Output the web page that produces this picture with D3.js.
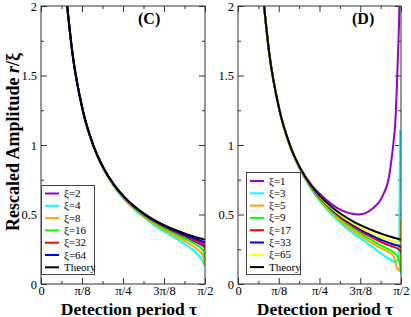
<!DOCTYPE html>
<head>
<meta charset="utf-8">
<style>
  body { margin: 0; background: #fff; }
  svg text { font-family: "Liberation Serif", "DejaVu Serif", serif; }
</style>
</head>
<body>
<div id="chart"></div>
<script src="https://cdnjs.cloudflare.com/ajax/libs/d3/7.8.5/d3.min.js"></script>
<script>
var PI = Math.PI;

// tick positions / labels
var xTicks = [0, PI / 8, PI / 4, 3 * PI / 8, PI / 2];
var xTickLabels = ["0", "π/8", "π/4", "3π/8", "π/2"];
var xMinor = [PI / 16, 3 * PI / 16, 5 * PI / 16, 7 * PI / 16];
var yTicks = [0, 0.5, 1, 1.5, 2];
var yTickLabels = ["0", "0.5", "1", "1.5", "2"];
var yMinor = [0.25, 0.75, 1.25, 1.75];

// panel C
var tauC = [0.24, 0.3, 0.4, 0.5, 0.6, 0.7, 0.8, 0.9, 1.0, 1.1, 1.2, 1.3, 1.4, 1.45, 1.5, 1.53, 1.55, 1.56, 1.5708];
var seriesNamesC = ["ξ=2", "ξ=4", "ξ=8", "ξ=16", "ξ=32", "ξ=64", "Theory"];
var c_xi2  = [2.08, 1.667, 1.249, 0.998, 0.829, 0.708, 0.617, 0.545, 0.486, 0.438, 0.397, 0.362, 0.329, 0.313, 0.295, 0.284, 0.275, 0.269, 0.258];
var c_xi4  = [2.08, 1.667, 1.247, 0.995, 0.823, 0.699, 0.605, 0.531, 0.470, 0.415, 0.367, 0.325, 0.277, 0.250, 0.213, 0.187, 0.163, 0.146, 0.128];
var c_xi8  = [2.08, 1.667, 1.248, 0.996, 0.825, 0.702, 0.609, 0.536, 0.476, 0.425, 0.380, 0.340, 0.299, 0.277, 0.248, 0.227, 0.203, 0.181, 0.138];
var c_xi16 = [2.08, 1.667, 1.249, 0.997, 0.828, 0.707, 0.615, 0.544, 0.485, 0.436, 0.393, 0.355, 0.319, 0.300, 0.278, 0.262, 0.243, 0.226, 0.188];
var c_xi32 = [2.08, 1.667, 1.250, 0.999, 0.831, 0.711, 0.620, 0.550, 0.492, 0.445, 0.405, 0.370, 0.339, 0.324, 0.308, 0.298, 0.288, 0.281, 0.265];
var c_xi64 = [2.08, 1.667, 1.250, 1.000, 0.833, 0.713, 0.623, 0.553, 0.496, 0.450, 0.411, 0.377, 0.347, 0.334, 0.320, 0.312, 0.305, 0.302, 0.290];
var c_theory = [2.08, 1.667, 1.250, 1.000, 0.833, 0.714, 0.625, 0.556, 0.500, 0.455, 0.417, 0.385, 0.357, 0.345, 0.333, 0.327, 0.323, 0.321, 0.318];

// panel D
var tauD = [0.24, 0.3, 0.4, 0.5, 0.6, 0.7, 0.8, 0.9, 1.0, 1.1, 1.16, 1.2, 1.3, 1.37, 1.4, 1.45, 1.48, 1.5, 1.515, 1.53, 1.545, 1.555, 1.561, 1.566, 1.5708];
var seriesNamesD = ["ξ=1", "ξ=3", "ξ=5", "ξ=9", "ξ=17", "ξ=33", "ξ=65", "Theory"];
var d_xi1  = [2.083, 1.667, 1.250, 1.000, 0.835, 0.720, 0.640, 0.575, 0.530, 0.505, 0.500, 0.503, 0.545, 0.600, 0.645, 0.750, 0.900, 1.030, 1.150, 1.400, 1.720, 2.000, 2.400, 2.800, 3.200];
var d_xi3  = [2.083, 1.667, 1.248, 0.995, 0.821, 0.689, 0.585, 0.501, 0.430, 0.370, 0.338, 0.317, 0.265, 0.223, 0.207, 0.185, 0.170, 0.160, 0.156, 0.165, 0.200, 0.350, 1.110, null, null];
var d_xi5  = [2.083, 1.667, 1.248, 0.996, 0.823, 0.696, 0.595, 0.514, 0.445, 0.387, 0.356, 0.337, 0.290, 0.260, 0.249, 0.230, 0.215, 0.200, 0.165, 0.120, 0.100, 0.095, 0.100, 0.200, 0.460];
var d_xi9  = [2.083, 1.667, 1.249, 0.997, 0.825, 0.700, 0.603, 0.526, 0.460, 0.405, 0.375, 0.355, 0.310, 0.280, 0.269, 0.250, 0.238, 0.228, 0.218, 0.205, 0.185, 0.160, 0.140, 0.115, 0.080];
var d_xi17 = [2.083, 1.667, 1.250, 0.998, 0.828, 0.705, 0.610, 0.535, 0.472, 0.420, 0.391, 0.372, 0.332, 0.305, 0.295, 0.280, 0.273, 0.268, 0.263, 0.258, 0.252, 0.247, 0.243, 0.238, 0.225];
var d_xi33 = [2.083, 1.667, 1.250, 0.999, 0.830, 0.708, 0.615, 0.541, 0.480, 0.430, 0.402, 0.384, 0.345, 0.320, 0.311, 0.297, 0.290, 0.285, 0.282, 0.279, 0.276, 0.273, 0.270, 0.267, 0.260];
var d_xi65 = [2.083, 1.667, 1.250, 1.000, 0.831, 0.711, 0.619, 0.547, 0.488, 0.440, 0.414, 0.397, 0.362, 0.340, 0.331, 0.318, 0.311, 0.307, 0.304, 0.301, 0.298, 0.296, 0.295, 0.293, 0.300];
var d_theory = [2.083, 1.667, 1.250, 1.000, 0.833, 0.714, 0.625, 0.556, 0.500, 0.455, 0.431, 0.417, 0.385, 0.365, 0.357, 0.345, 0.338, 0.333, 0.330, 0.327, 0.324, 0.322, 0.320, 0.319, 0.318];

var colorsC = ["#9400d3", "#00ffff", "#ffa500", "#00ff00", "#ff0000", "#0000ff", "#000000"];
var colorsD = ["#9400d3", "#00ffff", "#ffa500", "#00ff00", "#ff0000", "#0000ff", "#ffff00", "#000000"];

var svg = d3.select("#chart").append("svg")
  .attr("width", 411)
  .attr("height", 317);

var plotTop = 6, plotBottom = 284;

drawPanel({
  id: "C", x0: 41, x1: 205, tau: tauC, names: seriesNamesC, colors: colorsC,
  values: [c_xi2, c_xi4, c_xi8, c_xi16, c_xi32, c_xi64, c_theory],
  legend: {x: 41, y: 185, w: 53, h: 89, lineX: 45, textX: 64, row0: 193.5},
  label: {x: 138, text: "(C)"}, title: 129
});
drawPanel({
  id: "D", x0: 238, x1: 401, tau: tauD, names: seriesNamesD, colors: colorsD,
  values: [d_xi1, d_xi3, d_xi5, d_xi9, d_xi17, d_xi33, d_xi65, d_theory],
  legend: {x: 246, y: 172, w: 54, h: 102, lineX: 250, textX: 269, row0: 181},
  label: {x: 352, text: "(D)"}, title: 325
});

// y axis title
var yt = svg.append("text")
  .attr("transform", "translate(19,142) rotate(-90)")
  .attr("text-anchor", "middle")
  .attr("font-size", 18)
  .attr("font-weight", "bold");
yt.append("tspan").text("Rescaled Amplitude ");
yt.append("tspan").attr("font-style", "italic").text("r");
yt.append("tspan").text("/ξ");

function drawPanel(p) {
  var x = d3.scaleLinear().domain([0, PI / 2]).range([p.x0, p.x1]);
  var y = d3.scaleLinear().domain([0, 2]).range([plotBottom, plotTop]);
  var g = svg.append("g");

  g.append("clipPath").attr("id", "clip" + p.id)
    .append("rect")
    .attr("x", p.x0).attr("y", plotTop)
    .attr("width", p.x1 - p.x0).attr("height", plotBottom - plotTop);

  // ticks, pointing inward on all four sides
  function ticks(axis, tr, vals, size, labels) {
    var a = g.append("g").attr("transform", tr)
      .call(axis.tickValues(vals).tickSize(size).tickPadding(labels ? 2 : 0)
        .tickFormat(function(d, i) { return labels ? labels[i] : ""; }));
    a.select(".domain").remove();
    a.selectAll("line").attr("stroke", "#333");
    a.selectAll("text").attr("font-size", 12.5).attr("fill", "#000")
      .attr("font-family", "Liberation Serif");
    return a;
  }
  ticks(d3.axisBottom(x), "translate(0," + plotBottom + ")", xTicks, -6, xTickLabels);
  ticks(d3.axisBottom(x), "translate(0," + plotBottom + ")", xMinor, -3);
  ticks(d3.axisTop(x), "translate(0," + plotTop + ")", xTicks, -6);
  ticks(d3.axisTop(x), "translate(0," + plotTop + ")", xMinor, -3);
  ticks(d3.axisLeft(y), "translate(" + (p.x0 - 2) + ",0)", yTicks, 0, yTickLabels);
  ticks(d3.axisLeft(y), "translate(" + p.x0 + ",0)", yTicks, -6);
  ticks(d3.axisLeft(y), "translate(" + p.x0 + ",0)", yMinor, -3);
  ticks(d3.axisRight(y), "translate(" + p.x1 + ",0)", yTicks, -6);
  ticks(d3.axisRight(y), "translate(" + p.x1 + ",0)", yMinor, -3);

  var line = d3.line()
    .defined(function(d) { return d[1] != null; })
    .x(function(d) { return x(d[0]); })
    .y(function(d) { return y(d[1]); })
    .curve(d3.curveMonotoneX);

  var curves = g.append("g").attr("clip-path", "url(#clip" + p.id + ")");
  p.values.forEach(function(vals, i) {
    var pts = p.tau.map(function(t, k) { return [t, vals[k]]; });
    curves.append("path")
      .attr("d", line(pts))
      .attr("fill", "none")
      .attr("stroke", p.colors[i])
      .attr("stroke-width", 2);
  });

  // frame
  g.append("rect")
    .attr("x", p.x0).attr("y", plotTop)
    .attr("width", p.x1 - p.x0).attr("height", plotBottom - plotTop)
    .attr("fill", "none").attr("stroke", "#333").attr("stroke-width", 1);

  // legend
  var L = p.legend;
  var lg = g.append("g");
  lg.append("rect")
    .attr("x", L.x + 0.5).attr("y", L.y + 0.5)
    .attr("width", L.w).attr("height", L.h)
    .attr("fill", "#fff").attr("stroke", "#444").attr("stroke-width", 1);
  p.names.forEach(function(name, i) {
    var ry = L.row0 + i * 12.3;
    lg.append("line")
      .attr("x1", L.lineX).attr("x2", L.lineX + 14)
      .attr("y1", ry).attr("y2", ry)
      .attr("stroke", p.colors[i]).attr("stroke-width", 2);
    lg.append("text")
      .attr("x", L.textX).attr("y", ry + 3.5)
      .attr("font-size", 11)
      .text(name);
  });

  g.append("text")
    .attr("x", p.label.x).attr("y", 24)
    .attr("font-size", 16).attr("font-weight", "bold")
    .text(p.label.text);

  g.append("text")
    .attr("x", p.title).attr("y", 314.5)
    .attr("text-anchor", "middle")
    .attr("font-size", 17.5).attr("font-weight", "bold")
    .text("Detection period τ");
}
</script>
</body>
</html>
